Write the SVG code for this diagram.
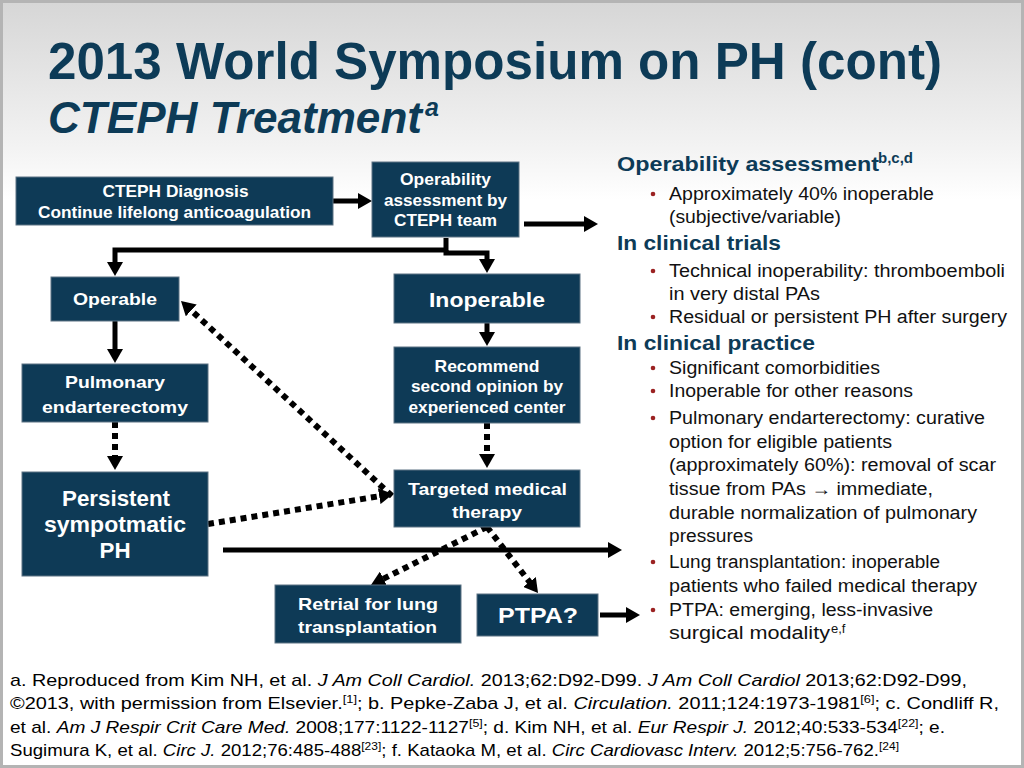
<svg xmlns="http://www.w3.org/2000/svg" width="1024" height="768" viewBox="0 0 1024 768">
<defs>
<linearGradient id="bg" x1="0" y1="0" x2="0" y2="1">
<stop offset="0" stop-color="#d6d6d6"/>
<stop offset="0.2" stop-color="#f4f4f4"/>
<stop offset="0.26" stop-color="#ffffff"/>
<stop offset="1" stop-color="#ffffff"/>
</linearGradient>
<marker id="ah" viewBox="0 0 14 16" markerWidth="14" markerHeight="16" refX="2" refY="8" orient="auto" markerUnits="userSpaceOnUse">
<path d="M0,0 L14,8 L0,16 Z" fill="#000"/>
</marker>
<style>
.box{fill:#0e3a56;stroke:#5d7383;stroke-width:1}
.bt{font-family:"Liberation Sans",Arial,sans-serif;font-weight:bold;fill:#ffffff;text-anchor:middle}
.solid{stroke:#000;stroke-width:5;fill:none}
.dot{stroke:#000;stroke-width:6;stroke-dasharray:6 5;fill:none}
.ttl{font-family:"Liberation Sans",Arial,sans-serif;font-weight:bold;fill:#0d3b57}
.hd{font-family:"Liberation Sans",Arial,sans-serif;font-weight:bold;font-size:21px;fill:#0d3b57}
.hsup{font-family:"Liberation Sans",Arial,sans-serif;font-weight:bold;font-size:15px;fill:#0d3b57}
.tx{font-family:"Liberation Sans",Arial,sans-serif;font-size:18px;fill:#111}
.tsup{font-family:"Liberation Sans",Arial,sans-serif;font-size:13px;fill:#111}
.fn{font-family:"Liberation Sans",Arial,sans-serif;font-size:17px;fill:#000}
.it{font-style:italic}
.bul{fill:#9b2222}
</style>
</defs>
<rect x="0" y="0" width="1024" height="768" fill="url(#bg)"/>
<rect x="1.5" y="1.5" width="1021" height="765" fill="none" stroke="#b4b4b4" stroke-width="3"/>

<g id="title">
<text class="ttl" x="48" y="79" font-size="51" textLength="894" lengthAdjust="spacingAndGlyphs">2013 World Symposium on PH (cont)</text>
<text class="ttl" x="48" y="133" font-size="44" font-style="italic" textLength="374" lengthAdjust="spacingAndGlyphs">CTEPH Treatment</text>
<text class="ttl" x="425" y="116" font-size="25" font-style="italic">a</text>
</g>

<g id="connectors">
<path class="solid" d="M333,201 H360" marker-end="url(#ah)"/>
<path class="solid" d="M524,224 H586" marker-end="url(#ah)"/>
<path class="solid" d="M446,238 V250 H115 V264" marker-end="url(#ah)"/>
<path class="solid" d="M446,250 V253 H487 V261" marker-end="url(#ah)"/>
<path class="solid" d="M115,321 V351" marker-end="url(#ah)"/>
<path class="solid" d="M487,323 V334" marker-end="url(#ah)"/>
<path class="dot" d="M115,422 V458" marker-end="url(#ah)"/>
<path class="dot" d="M487,423 V456" marker-end="url(#ah)"/>
<path class="dot" d="M392,496 L189.8,309.1" marker-end="url(#ah)"/>
<path class="dot" d="M208,524 L381.2,495.9" marker-end="url(#ah)"/>
<path class="solid" d="M223,550 H610" marker-end="url(#ah)"/>
<path class="dot" d="M487,527 L381.7,579.6" marker-end="url(#ah)"/>
<path class="dot" d="M487,527 L530.7,583.5" marker-end="url(#ah)"/>
<path class="solid" d="M600,615 H628" marker-end="url(#ah)"/>
</g>

<g id="n-diagnosis">
<rect class="box" x="16" y="177" width="317" height="48"/>
<text class="bt" x="175.5" y="197" font-size="16.5" textLength="146" lengthAdjust="spacingAndGlyphs">CTEPH Diagnosis</text>
<text class="bt" x="174.5" y="218" font-size="16.5" textLength="273" lengthAdjust="spacingAndGlyphs">Continue lifelong anticoagulation</text>
</g>
<g id="n-assessment">
<rect class="box" x="372" y="162" width="147" height="75"/>
<text class="bt" x="445.5" y="185" font-size="16.5" textLength="91" lengthAdjust="spacingAndGlyphs">Operability</text>
<text class="bt" x="445.5" y="206" font-size="16.5" textLength="123" lengthAdjust="spacingAndGlyphs">assessment by</text>
<text class="bt" x="445.5" y="226" font-size="16.5" textLength="103" lengthAdjust="spacingAndGlyphs">CTEPH team</text>
</g>
<g id="n-operable">
<rect class="box" x="51" y="277" width="128" height="44"/>
<text class="bt" x="115" y="305" font-size="17" textLength="84" lengthAdjust="spacingAndGlyphs">Operable</text>
</g>
<g id="n-inoperable">
<rect class="box" x="394" y="274" width="186" height="49"/>
<text class="bt" x="487" y="307" font-size="21" textLength="116" lengthAdjust="spacingAndGlyphs">Inoperable</text>
</g>
<g id="n-recommend">
<rect class="box" x="394" y="347" width="186" height="76"/>
<text class="bt" x="487" y="372" font-size="16.5" textLength="105" lengthAdjust="spacingAndGlyphs">Recommend</text>
<text class="bt" x="487" y="392" font-size="16.5" textLength="152" lengthAdjust="spacingAndGlyphs">second opinion by</text>
<text class="bt" x="487" y="413" font-size="16.5" textLength="157" lengthAdjust="spacingAndGlyphs">experienced center</text>
</g>
<g id="n-pea">
<rect class="box" x="22" y="364" width="186" height="58"/>
<text class="bt" x="115" y="388" font-size="17" textLength="100" lengthAdjust="spacingAndGlyphs">Pulmonary</text>
<text class="bt" x="115" y="413" font-size="17" textLength="146" lengthAdjust="spacingAndGlyphs">endarterectomy</text>
</g>
<g id="n-persistent">
<rect class="box" x="22" y="472" width="186" height="104"/>
<text class="bt" x="116" y="506" font-size="22" textLength="108" lengthAdjust="spacingAndGlyphs">Persistent</text>
<text class="bt" x="115" y="532" font-size="22" textLength="142" lengthAdjust="spacingAndGlyphs">sympotmatic</text>
<text class="bt" x="115" y="558" font-size="22" textLength="31" lengthAdjust="spacingAndGlyphs">PH</text>
</g>
<g id="n-targeted">
<rect class="box" x="394" y="470" width="186" height="57"/>
<text class="bt" x="487.5" y="495" font-size="17" textLength="159" lengthAdjust="spacingAndGlyphs">Targeted medical</text>
<text class="bt" x="487" y="518" font-size="17" textLength="70" lengthAdjust="spacingAndGlyphs">therapy</text>
</g>
<g id="n-retrial">
<rect class="box" x="275" y="585" width="186" height="58"/>
<text class="bt" x="368" y="610" font-size="17" textLength="140" lengthAdjust="spacingAndGlyphs">Retrial for lung</text>
<text class="bt" x="367.5" y="633" font-size="17" textLength="139" lengthAdjust="spacingAndGlyphs">transplantation</text>
</g>
<g id="n-ptpa">
<rect class="box" x="477" y="594" width="121" height="42"/>
<text class="bt" x="538" y="623" font-size="22" textLength="80" lengthAdjust="spacingAndGlyphs">PTPA?</text>
</g>

<g id="notes">
<text class="hd" x="617" y="171" textLength="262" lengthAdjust="spacingAndGlyphs">Operability assessment</text>
<text class="hsup" x="878" y="163">b,c,d</text>
<circle class="bul" cx="653" cy="194" r="2.3"/>
<text class="tx" x="669" y="200" textLength="265" lengthAdjust="spacingAndGlyphs">Approximately 40% inoperable</text>
<text class="tx" x="669" y="223" textLength="172" lengthAdjust="spacingAndGlyphs">(subjective/variable)</text>
<text class="hd" x="617" y="250" textLength="164" lengthAdjust="spacingAndGlyphs">In clinical trials</text>
<circle class="bul" cx="653" cy="271" r="2.3"/>
<text class="tx" x="669" y="277" textLength="336" lengthAdjust="spacingAndGlyphs">Technical inoperability: thromboemboli</text>
<text class="tx" x="669" y="300" textLength="151" lengthAdjust="spacingAndGlyphs">in very distal PAs</text>
<circle class="bul" cx="653" cy="317" r="2.3"/>
<text class="tx" x="669" y="323" textLength="338" lengthAdjust="spacingAndGlyphs">Residual or persistent PH after surgery</text>
<text class="hd" x="617" y="350" textLength="198" lengthAdjust="spacingAndGlyphs">In clinical practice</text>
<circle class="bul" cx="653" cy="368" r="2.3"/>
<text class="tx" x="669" y="374" textLength="211" lengthAdjust="spacingAndGlyphs">Significant comorbidities</text>
<circle class="bul" cx="653" cy="391" r="2.3"/>
<text class="tx" x="669" y="397" textLength="244" lengthAdjust="spacingAndGlyphs">Inoperable for other reasons</text>
<circle class="bul" cx="653" cy="418" r="2.3"/>
<text class="tx" x="669" y="424" textLength="316" lengthAdjust="spacingAndGlyphs">Pulmonary endarterectomy: curative</text>
<text class="tx" x="669" y="448" textLength="223" lengthAdjust="spacingAndGlyphs">option for eligible patients</text>
<text class="tx" x="669" y="471" textLength="327" lengthAdjust="spacingAndGlyphs">(approximately 60%): removal of scar</text>
<text class="tx" x="669" y="495" textLength="264" lengthAdjust="spacingAndGlyphs">tissue from PAs → immediate,</text>
<text class="tx" x="669" y="519" textLength="308" lengthAdjust="spacingAndGlyphs">durable normalization of pulmonary</text>
<text class="tx" x="669" y="542" textLength="84" lengthAdjust="spacingAndGlyphs">pressures</text>
<circle class="bul" cx="653" cy="562" r="2.3"/>
<text class="tx" x="669" y="568" textLength="271" lengthAdjust="spacingAndGlyphs">Lung transplantation: inoperable</text>
<text class="tx" x="669" y="592" textLength="308" lengthAdjust="spacingAndGlyphs">patients who failed medical therapy</text>
<circle class="bul" cx="653" cy="610" r="2.3"/>
<text class="tx" x="669" y="616" textLength="264" lengthAdjust="spacingAndGlyphs">PTPA: emerging, less-invasive</text>
<text class="tx" x="669" y="639" textLength="161" lengthAdjust="spacingAndGlyphs">surgical modality</text>
<text class="tsup" x="831" y="633">e,f</text>
</g>

<g id="footnotes">
<text class="fn" x="10" y="686" textLength="957" lengthAdjust="spacingAndGlyphs">a. Reproduced from Kim NH, et al. <tspan class="it">J Am Coll Cardiol.</tspan> 2013;62:D92-D99. <tspan class="it">J Am Coll Cardiol</tspan> 2013;62:D92-D99,</text>
<text class="fn" x="10" y="709" textLength="989" lengthAdjust="spacingAndGlyphs">©2013, with permission from Elsevier.<tspan font-size="11" dy="-6">[1]</tspan><tspan dy="6">; b. Pepke-Zaba J, et al. </tspan><tspan class="it">Circulation.</tspan> 2011;124:1973-1981<tspan font-size="11" dy="-6">[6]</tspan><tspan dy="6">; c. Condliff R,</tspan></text>
<text class="fn" x="10" y="733" textLength="935" lengthAdjust="spacingAndGlyphs">et al. <tspan class="it">Am J Respir Crit Care Med.</tspan> 2008;177:1122-1127<tspan font-size="11" dy="-6">[5]</tspan><tspan dy="6">; d. Kim NH, et al. </tspan><tspan class="it">Eur Respir J.</tspan> 2012;40:533-534<tspan font-size="11" dy="-6">[22]</tspan><tspan dy="6">; e.</tspan></text>
<text class="fn" x="10" y="756" textLength="889" lengthAdjust="spacingAndGlyphs">Sugimura K, et al. <tspan class="it">Circ J.</tspan> 2012;76:485-488<tspan font-size="11" dy="-6">[23]</tspan><tspan dy="6">; f. Kataoka M, et al. </tspan><tspan class="it">Circ Cardiovasc Interv.</tspan> 2012;5:756-762.<tspan font-size="11" dy="-6">[24]</tspan></text>
</g>
</svg>
